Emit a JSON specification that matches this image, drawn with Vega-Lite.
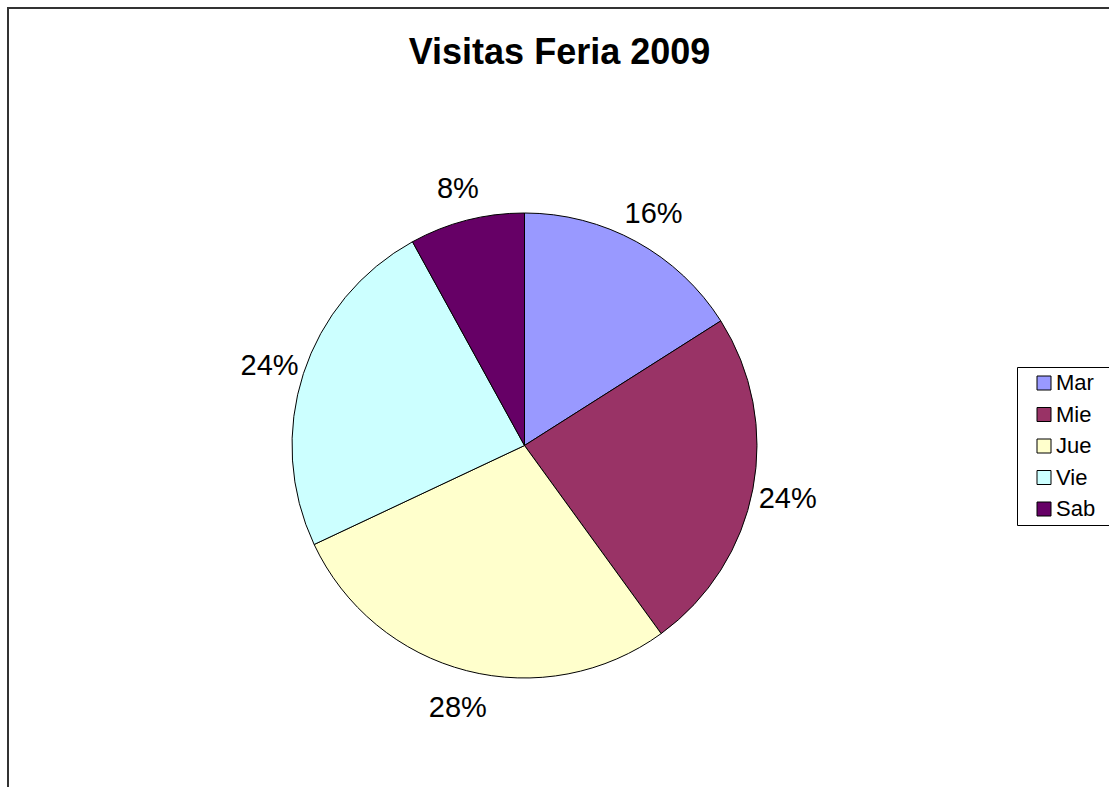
{
  "$schema": "https://vega.github.io/schema/vega-lite/v6.json",
  "autosize": {"type": "none"},
  "padding": {"left": 8, "top": 8, "right": 0, "bottom": 0},
  "width": 1103,
  "height": 800,
  "background": "white",
  "view": {"stroke": "#333333", "strokeWidth": 2},
  "config": {"view": {"stroke": "#333333", "strokeWidth": 2}, "font": "Liberation Sans"},
  "title": {
    "text": "Visitas Feria 2009",
    "fontSize": 36,
    "font": "Liberation Sans",
    "fontWeight": "bold",
    "color": "black",
    "anchor": "middle",
    "frame": "group",
    "orient": "top",
    "offset": 0,
    "baseline": "alphabetic",
    "dy": 92
  },
  "data": {
    "values": [
      {"i": 1, "dia": "Mar", "v": 0.16},
      {"i": 2, "dia": "Mie", "v": 0.24},
      {"i": 3, "dia": "Jue", "v": 0.28},
      {"i": 4, "dia": "Vie", "v": 0.24},
      {"i": 5, "dia": "Sab", "v": 0.08}
    ]
  },
  "encoding": {
    "theta": {"field": "v", "type": "quantitative", "stack": true},
    "order": {"field": "i", "type": "quantitative"}
  },
  "layer": [
    {
      "mark": {"type": "arc", "outerRadius": 232.5, "x": 516.5, "y": 437.5, "stroke": "black", "strokeWidth": 1},
      "encoding": {
        "color": {
          "field": "dia",
          "type": "nominal",
          "scale": {
            "domain": ["Mar", "Mie", "Jue", "Vie", "Sab"],
            "range": ["#9999FF", "#993366", "#FFFFCC", "#CCFFFF", "#660066"]
          },
          "legend": {
            "orient": "none",
            "legendX": 1009,
            "legendY": 359,
            "title": null,
            "symbolType": "square",
            "symbolSize": 196,
            "symbolStrokeColor": "black",
            "symbolStrokeWidth": 1,
            "symbolOpacity": 1,
            "symbolOffset": 11,
            "labelFontSize": 22,
            "labelFont": "Liberation Sans",
            "labelColor": "black",
            "labelOffset": 1,
            "labelExpr": "datum.label + '            \u200b'",
            "rowPadding": 9.5,
            "padding": 5,
            "strokeColor": "black",
            "fillColor": "white"
          }
        }
      }
    },
    {
      "mark": {"type": "text", "radius": 268, "x": 516.5, "y": 437.5, "dy": 3, "fontSize": 29, "font": "Liberation Sans", "color": "black", "align": "center", "baseline": "middle"},
      "encoding": {
        "text": {"field": "v", "type": "quantitative", "format": ".0%"}
      }
    }
  ]
}
